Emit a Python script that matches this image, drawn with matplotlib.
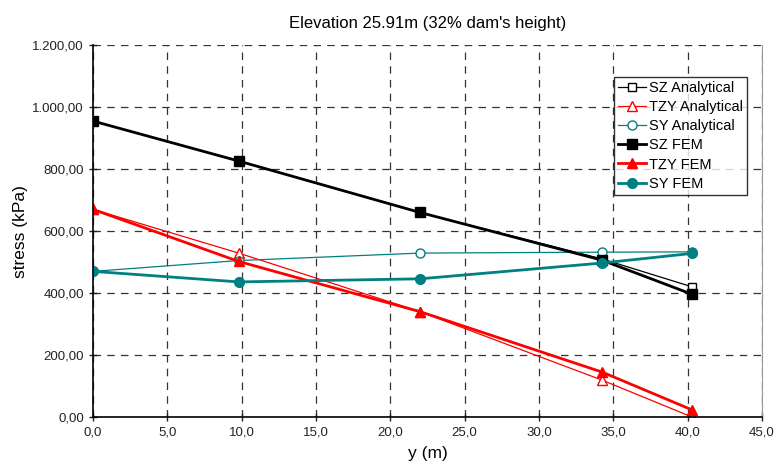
import matplotlib as mpl
mpl.use('Agg')
import matplotlib.pyplot as plt
from matplotlib.ticker import FuncFormatter, MultipleLocator

# section positions along y (m)
y_pos = [0.0, 9.8, 22.0, 34.25, 40.3]

sz_analytical = [955., 826., 660., 510., 420.]
tzy_analytical = [670., 529., 340., 119., 0.]
sy_analytical = [470., 505., 529., 532., 533.]
sz_fem = [955., 826., 660., 506., 396.]
tzy_fem = [670., 502., 340., 145., 23.]
sy_fem = [470., 436., 446., 497., 528.]

teal = '#008080'


def euro(v, decimals):
    s = '{:,.{}f}'.format(v, decimals)
    return s.replace(',', 'X').replace('.', ',').replace('X', '.')


def main():
    mpl.rcParams['font.family'] = ['Liberation Sans', 'DejaVu Sans']
    mpl.rcParams['font.size'] = 10

    fig = plt.figure(figsize=(7.77, 4.75), dpi=100)
    ax = fig.add_axes([0.1197, 0.122, 0.861, 0.783])

    ax.plot(y_pos, sz_analytical, color='black', lw=0.9, marker='s',
            mfc='white', mec='black', ms=6, label='SZ Analytical')
    ax.plot(y_pos, tzy_analytical, color='red', lw=0.9, marker='^',
            mfc='white', mec='red', ms=6.5, label='TZY Analytical')
    ax.plot(y_pos, sy_analytical, color=teal, lw=0.9, marker='o',
            mfc='white', mec=teal, ms=6.5, label='SY Analytical')
    ax.plot(y_pos, sz_fem, color='black', lw=2.0, marker='s', ms=6.5,
            label='SZ FEM')
    ax.plot(y_pos, tzy_fem, color='red', lw=2.0, marker='^', ms=7,
            label='TZY FEM')
    ax.plot(y_pos, sy_fem, color=teal, lw=2.0, marker='o', ms=7,
            label='SY FEM')

    ax.set_xlim(0, 45)
    ax.set_ylim(0, 1200)
    ax.xaxis.set_major_locator(MultipleLocator(5))
    ax.yaxis.set_major_locator(MultipleLocator(200))
    ax.xaxis.set_major_formatter(FuncFormatter(lambda v, p: euro(v, 1)))
    ax.yaxis.set_major_formatter(FuncFormatter(lambda v, p: euro(v, 2)))
    ax.tick_params(direction='inout', length=6, width=1, labelsize=9.5,
                   colors='#222222')

    ax.grid(True, color='#333333', ls=(0, (6, 5)), lw=0.9)
    ax.set_axisbelow(True)
    ax.spines['top'].set_visible(False)
    ax.spines['right'].set_color('#999999')
    ax.spines['left'].set_linewidth(1.2)
    ax.spines['bottom'].set_linewidth(1.2)

    ax.set_xlabel('y (m)', fontsize=12.5, labelpad=6)
    ax.set_ylabel('stress (kPa)', fontsize=12.5, labelpad=3)
    ax.set_title("Elevation 25.91m (32% dam's height)", fontsize=12,
                 pad=12)

    leg = ax.legend(loc='upper right', bbox_to_anchor=(0.978, 0.915),
                    fontsize=10.5, frameon=True, fancybox=False,
                    edgecolor='black', handlelength=1.9, handletextpad=0.2,
                    borderpad=0.3, labelspacing=0.35, borderaxespad=0)
    leg.get_frame().set_linewidth(1.0)

    fig.savefig('out.png', dpi=100)
    plt.close(fig)


if __name__ == '__main__':
    main()
